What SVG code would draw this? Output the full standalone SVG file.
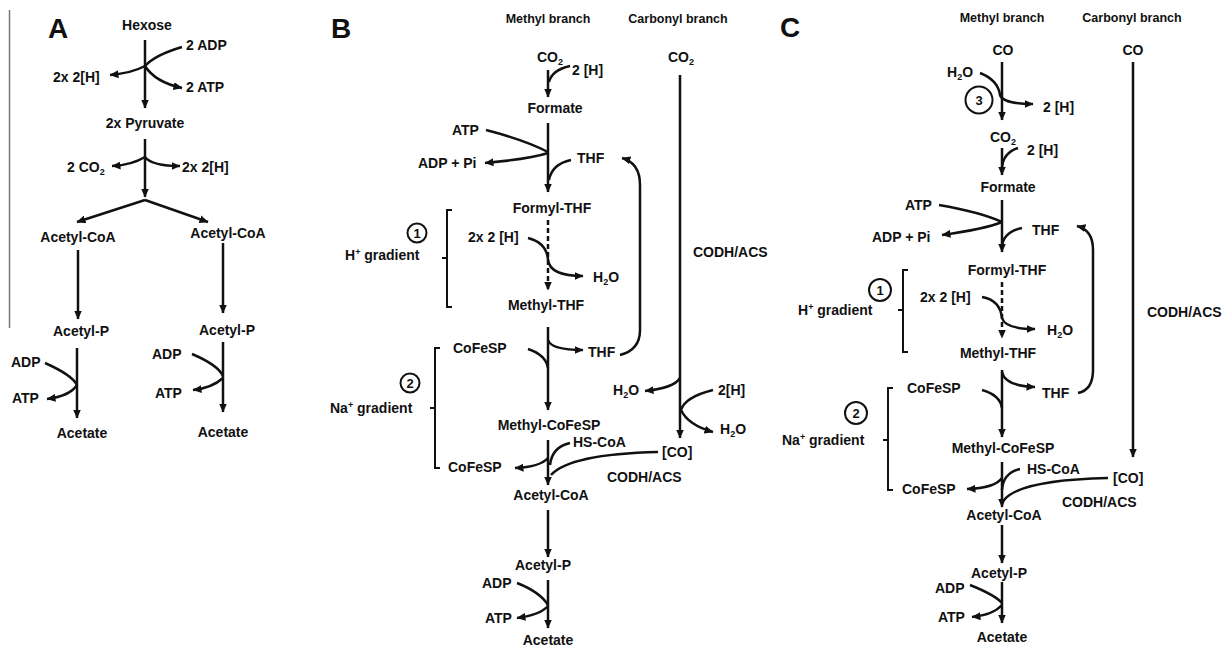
<svg xmlns="http://www.w3.org/2000/svg" width="1224" height="646" viewBox="0 0 1224 646">
<style>
text{font-family:"Liberation Sans",Arial,sans-serif;font-weight:bold;font-size:14px;fill:#111}
.h{font-size:12.5px}
.big{font-size:28px}
.m{text-anchor:middle}
.n{font-size:13px;text-anchor:middle}
#connectors path{fill:none;stroke:#111;stroke-width:2.5}
#connectors .a{marker-end:url(#ah)}
#connectors .d{stroke-dasharray:5 3}
#connectors .br{stroke-width:2}
#connectors .g{stroke:#777;stroke-width:1.5}
.circ{fill:none;stroke:#111;stroke-width:2}
</style>
<defs>
<marker id="ah" markerUnits="userSpaceOnUse" markerWidth="9" markerHeight="8" viewBox="0 0 9 8" refX="8.5" refY="4" orient="auto"><path d="M0,0 L9,4 L0,8 z" fill="#111"/></marker>
</defs>

<g id="connectors">
<!-- Panel A -->
<path class="g" d="M9.5,10 V328"/>
<path class="a" d="M145,40 V108"/>
<path d="M182,47 Q155,55 145,66"/>
<path class="a" d="M145,66 Q132,73 110,75"/>
<path class="a" d="M145,66 Q155,82 182,88"/>
<path class="a" d="M145,139 V197"/>
<path class="a" d="M145,200 L77,222"/>
<path class="a" d="M145,200 L208,222"/>
<path class="a" d="M145,157 Q132,165 112,166"/>
<path class="a" d="M145,157 Q152,166 180,166"/>
<path class="a" d="M78,250 V319"/>
<path class="a" d="M77,348 V418"/>
<path d="M45,363 Q72,375 77,385"/>
<path class="a" d="M77,385 Q70,396 47,399"/>
<path class="a" d="M223,243 V313"/>
<path class="a" d="M223,342 V412"/>
<path d="M192,354 Q218,365 223,376"/>
<path class="a" d="M223,378 Q212,388 193,390"/>
<!-- Panel B -->
<path class="a" d="M548,70 V97"/>
<path d="M570,66 Q552,70 549,82"/>
<path class="a" d="M548,123 V192"/>
<path d="M486,130 Q525,140 548,152"/>
<path class="a" d="M548,153 Q530,159 485,163"/>
<path d="M571,160 Q552,164 549,180"/>
<path class="a" d="M620,355 Q640,350 640,330 V185 Q640,163 622,158"/>
<path class="a d" d="M548,220 V290"/>
<path class="a" d="M528,238 Q547,243 548,260 Q550,276 583,276"/>
<path class="a" d="M548,327 V410"/>
<path d="M528,349 Q546,355 548,368"/>
<path class="a" d="M548,340 Q551,350 583,350"/>
<path class="br" d="M452,210 H447 V307 H452 M447,258 H442"/>
<path class="br" d="M440,348 H435 V468 H440 M435,408 H430"/>
<path class="a" d="M680,75 V438"/>
<path class="a" d="M680,378 Q674,388 645,391"/>
<path class="a" d="M713,390 Q685,397 681,410 Q688,425 713,432"/>
<path class="a" d="M548,440 V485"/>
<path d="M570,443 Q552,447 550,465"/>
<path class="a" d="M548,458 Q540,467 515,468"/>
<path d="M658,452 Q570,454 551,475"/>
<path class="a" d="M548,510 V557"/>
<path class="a" d="M548,580 V628"/>
<path d="M517,583 Q540,592 548,605"/>
<path class="a" d="M548,606 Q540,615 517,618"/>
<!-- Panel C -->
<path class="a" d="M1002,62 V120"/>
<path class="a" d="M980,73 Q998,80 1000,95 Q1003,104 1033,104"/>
<path class="a" d="M1133,62 V457"/>
<path class="a" d="M1002,148 V175"/>
<path d="M1018,148 Q1003,153 1002,168"/>
<path class="a" d="M1002,200 V252"/>
<path d="M939,205 Q980,212 1002,222"/>
<path class="a" d="M1002,222 Q985,229 942,235"/>
<path d="M1022,228 Q1003,232 1002,247"/>
<path class="a" d="M1078,393 Q1093,390 1093,370 V250 Q1093,230 1077,226"/>
<path class="a d" d="M1002,282 V338"/>
<path class="a" d="M982,297 Q1000,300 1002,318 Q1005,329 1035,329"/>
<path class="a" d="M1002,370 V437"/>
<path d="M982,390 Q1000,395 1002,408"/>
<path class="a" d="M1002,372 Q1005,386 1035,387"/>
<path class="br" d="M908,270 H903 V352 H908 M903,310 H898"/>
<path class="br" d="M893,388 H888 V490 H893 M888,440 H883"/>
<path class="a" d="M1002,462 V507"/>
<path d="M1020,469 Q1003,473 1002,490"/>
<path class="a" d="M1002,478 Q995,488 967,489"/>
<path d="M1108,478 Q1020,480 1004,500"/>
<path class="a" d="M1002,525 V563"/>
<path class="a" d="M1002,582 V623"/>
<path d="M970,585 Q995,595 1002,603"/>
<path class="a" d="M1002,605 Q993,615 972,617"/>
</g>

<!-- Panel A nodes -->
<g id="A-label"><text class="big" x="48" y="38">A</text></g>
<g id="A-hexose"><text class="m" x="147" y="30">Hexose</text></g>
<g id="A-adp1"><text x="186" y="50">2 ADP</text></g>
<g id="A-h1"><text x="53" y="82">2x 2[H]</text></g>
<g id="A-atp1"><text x="186" y="92">2 ATP</text></g>
<g id="A-pyruvate"><text class="m" x="145" y="128">2x Pyruvate</text></g>
<g id="A-co2"><text x="67" y="172">2 CO<tspan font-size="9" dy="3">2</tspan></text></g>
<g id="A-h2"><text x="182" y="172">2x 2[H]</text></g>
<g id="A-acoa-l"><text class="m" x="78" y="242">Acetyl-CoA</text></g>
<g id="A-acoa-r"><text class="m" x="228" y="238">Acetyl-CoA</text></g>
<g id="A-ap-l"><text class="m" x="81" y="336">Acetyl-P</text></g>
<g id="A-ap-r"><text class="m" x="227" y="335">Acetyl-P</text></g>
<g id="A-adp-l"><text x="11" y="367">ADP</text></g>
<g id="A-atp-l"><text x="12" y="403">ATP</text></g>
<g id="A-adp-r"><text x="152" y="359">ADP</text></g>
<g id="A-atp-r"><text x="155" y="398">ATP</text></g>
<g id="A-acetate-l"><text class="m" x="82" y="438">Acetate</text></g>
<g id="A-acetate-r"><text class="m" x="223" y="437">Acetate</text></g>

<!-- Panel B nodes -->
<g id="B-label"><text class="big" x="331" y="38">B</text></g>
<g id="B-methyl-head"><text class="h m" x="548" y="23">Methyl branch</text></g>
<g id="B-carbonyl-head"><text class="h m" x="678" y="23">Carbonyl branch</text></g>
<g id="B-co2-m"><text x="537" y="62">CO<tspan font-size="9" dy="3">2</tspan></text></g>
<g id="B-co2-c"><text x="668" y="62">CO<tspan font-size="9" dy="3">2</tspan></text></g>
<g id="B-h1"><text x="572" y="75">2 [H]</text></g>
<g id="B-formate"><text class="m" x="555" y="113">Formate</text></g>
<g id="B-atp"><text x="452" y="135">ATP</text></g>
<g id="B-adppi"><text x="418" y="168">ADP + Pi</text></g>
<g id="B-thf1"><text x="577" y="163">THF</text></g>
<g id="B-formylthf"><text class="m" x="552" y="213">Formyl-THF</text></g>
<g id="B-h2"><text x="468" y="242">2x 2 [H]</text></g>
<g id="B-h2o1"><text x="593" y="282">H<tspan font-size="9" dy="3">2</tspan><tspan dy="-3">O</tspan></text></g>
<g id="B-methylthf"><text class="m" x="546" y="310">Methyl-THF</text></g>
<g id="B-c1"><circle class="circ" cx="417" cy="233" r="9.5"/><text class="n" x="417" y="237.5">1</text></g>
<g id="B-hgrad"><text x="345" y="260">H<tspan font-size="9" dy="-5">+</tspan><tspan dy="5"> gradient</tspan></text></g>
<g id="B-cofesp1"><text x="453" y="353">CoFeSP</text></g>
<g id="B-thf2"><text x="588" y="357">THF</text></g>
<g id="B-c2"><circle class="circ" cx="410" cy="383" r="9.5"/><text class="n" x="410" y="387.5">2</text></g>
<g id="B-nagrad"><text x="330" y="413">Na<tspan font-size="9" dy="-5">+</tspan><tspan dy="5"> gradient</tspan></text></g>
<g id="B-codh1"><text x="693" y="257">CODH/ACS</text></g>
<g id="B-h2o2"><text x="613" y="395">H<tspan font-size="9" dy="3">2</tspan><tspan dy="-3">O</tspan></text></g>
<g id="B-h3"><text x="718" y="395">2[H]</text></g>
<g id="B-h2o3"><text x="720" y="434">H<tspan font-size="9" dy="3">2</tspan><tspan dy="-3">O</tspan></text></g>
<g id="B-methylcofesp"><text class="m" x="549" y="430">Methyl-CoFeSP</text></g>
<g id="B-hscoa"><text x="573" y="447">HS-CoA</text></g>
<g id="B-co"><text x="662" y="457">[CO]</text></g>
<g id="B-cofesp2"><text x="448" y="472">CoFeSP</text></g>
<g id="B-codh2"><text x="607" y="482">CODH/ACS</text></g>
<g id="B-acoa"><text class="m" x="551" y="500">Acetyl-CoA</text></g>
<g id="B-ap"><text class="m" x="543" y="570">Acetyl-P</text></g>
<g id="B-adp"><text x="482" y="588">ADP</text></g>
<g id="B-atp2"><text x="485" y="623">ATP</text></g>
<g id="B-acetate"><text class="m" x="548" y="645">Acetate</text></g>

<!-- Panel C nodes -->
<g id="C-label"><text class="big" x="780" y="37">C</text></g>
<g id="C-methyl-head"><text class="h m" x="1002" y="22">Methyl branch</text></g>
<g id="C-carbonyl-head"><text class="h m" x="1132" y="22">Carbonyl branch</text></g>
<g id="C-co-m"><text class="m" x="1003" y="55">CO</text></g>
<g id="C-co-c"><text class="m" x="1133" y="55">CO</text></g>
<g id="C-h2o0"><text x="947" y="77">H<tspan font-size="9" dy="3">2</tspan><tspan dy="-3">O</tspan></text></g>
<g id="C-h0"><text x="1043" y="112">2 [H]</text></g>
<g id="C-c3"><circle class="circ" cx="979" cy="100" r="13.5"/><text class="n" x="979" y="105">3</text></g>
<g id="C-co2"><text x="990" y="142">CO<tspan font-size="9" dy="3">2</tspan></text></g>
<g id="C-h1"><text x="1027" y="155">2 [H]</text></g>
<g id="C-formate"><text class="m" x="1008" y="192">Formate</text></g>
<g id="C-atp"><text x="905" y="210">ATP</text></g>
<g id="C-adppi"><text x="872" y="242">ADP + Pi</text></g>
<g id="C-thf1"><text x="1032" y="235">THF</text></g>
<g id="C-formylthf"><text class="m" x="1007" y="275">Formyl-THF</text></g>
<g id="C-h2"><text x="920" y="302">2x 2 [H]</text></g>
<g id="C-h2o1"><text x="1047" y="335">H<tspan font-size="9" dy="3">2</tspan><tspan dy="-3">O</tspan></text></g>
<g id="C-methylthf"><text class="m" x="998" y="358">Methyl-THF</text></g>
<g id="C-c1"><circle class="circ" cx="880" cy="290" r="11"/><text class="n" x="880" y="294.5">1</text></g>
<g id="C-hgrad"><text x="798" y="315">H<tspan font-size="9" dy="-5">+</tspan><tspan dy="5"> gradient</tspan></text></g>
<g id="C-cofesp1"><text x="907" y="393">CoFeSP</text></g>
<g id="C-thf2"><text x="1042" y="398">THF</text></g>
<g id="C-c2"><circle class="circ" cx="856" cy="413" r="11"/><text class="n" x="856" y="417.5">2</text></g>
<g id="C-nagrad"><text x="782" y="445">Na<tspan font-size="9" dy="-5">+</tspan><tspan dy="5"> gradient</tspan></text></g>
<g id="C-codh1"><text x="1147" y="317">CODH/ACS</text></g>
<g id="C-methylcofesp"><text class="m" x="1003" y="453">Methyl-CoFeSP</text></g>
<g id="C-hscoa"><text x="1027" y="474">HS-CoA</text></g>
<g id="C-co"><text x="1113" y="483">[CO]</text></g>
<g id="C-cofesp2"><text x="902" y="494">CoFeSP</text></g>
<g id="C-codh2"><text x="1062" y="507">CODH/ACS</text></g>
<g id="C-acoa"><text class="m" x="1004" y="520">Acetyl-CoA</text></g>
<g id="C-ap"><text class="m" x="999" y="578">Acetyl-P</text></g>
<g id="C-adp"><text x="935" y="593">ADP</text></g>
<g id="C-atp2"><text x="938" y="622">ATP</text></g>
<g id="C-acetate"><text class="m" x="1002" y="642">Acetate</text></g>
</svg>
